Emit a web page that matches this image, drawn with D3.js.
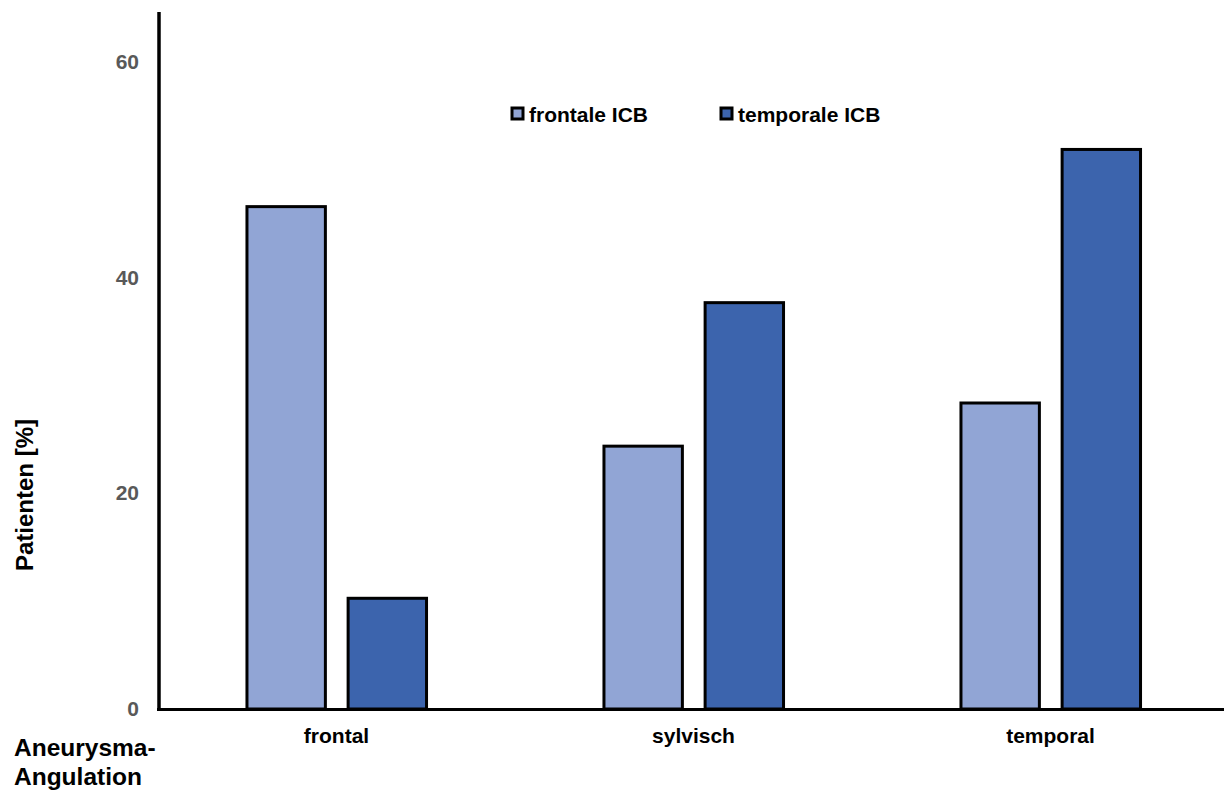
<!DOCTYPE html>
<html>
<head>
<meta charset="utf-8">
<script src="https://cdn.jsdelivr.net/npm/d3@7"></script>
<style>
  html, body { margin: 0; padding: 0; background: #fff; }
  svg { display: block; font-family: "Liberation Sans", Arial, sans-serif; font-weight: bold; }
</style>
</head>
<body>
<svg id="chart" width="1224" height="796"></svg>
<script>
const categories = ["frontal", "sylvisch", "temporal"];
const seriesNames = ["frontale ICB", "temporale ICB"];
const frontaleICB = [46.7, 24.5, 28.5];
const temporaleICB = [10.4, 37.8, 52.0];
const yTicks = [0, 20, 40, 60];
const colors = ["#91A5D5", "#3C64AD"];

const seriesValues = [frontaleICB, temporaleICB];
const svg = d3.select("#chart");

const x0 = d3.scaleBand().domain(categories).range([158, 1229]).paddingInner(0.49).paddingOuter(0.245);
const x1 = d3.scaleBand().domain(seriesNames).range([0, x0.bandwidth()]).paddingInner(0.2).paddingOuter(0);
const y = d3.scaleLinear().domain([0, 64.6]).range([709, 12]);

// bars
const groups = svg.append("g").selectAll("g")
  .data(categories)
  .join("g")
  .attr("transform", d => `translate(${x0(d)},0)`);

groups.selectAll("rect")
  .data((c, i) => seriesNames.map((s, j) => ({ s, v: seriesValues[j][i], j })))
  .join("rect")
  .attr("x", d => x1(d.s) + 1.5)
  .attr("width", x1.bandwidth() - 2.5)
  .attr("y", d => y(d.v) + 1.5)
  .attr("height", d => y(0) - y(d.v) - 1.5)
  .attr("fill", d => colors[d.j])
  .attr("stroke", "#000")
  .attr("stroke-width", 3);

// y axis
const yAxis = d3.axisLeft(y).tickValues(yTicks).tickSize(0).tickPadding(20);
const yg = svg.append("g").attr("transform", "translate(159,0)").call(yAxis);
yg.select(".domain").remove();
yg.selectAll("text")
  .attr("fill", "#595959")
  .attr("font-size", 21)
  .attr("font-weight", "bold")
  .attr("font-family", '"Liberation Sans", Arial, sans-serif');

svg.append("line")
  .attr("x1", 159).attr("x2", 159)
  .attr("y1", y.range()[1]).attr("y2", y(0) + 2)
  .attr("stroke", "#000").attr("stroke-width", 3.5);

// x axis
const xAxis = d3.axisBottom(x0).tickSize(0).tickPadding(19);
const xg = svg.append("g").attr("transform", `translate(0,${y(0)})`).call(xAxis);
xg.select(".domain").remove();
xg.selectAll("text")
  .attr("fill", "#000")
  .attr("font-size", 21)
  .attr("font-weight", "bold")
  .attr("font-family", '"Liberation Sans", Arial, sans-serif');

svg.append("line")
  .attr("x1", 157).attr("x2", 1224)
  .attr("y1", y(0) + 0.5).attr("y2", y(0) + 0.5)
  .attr("stroke", "#000").attr("stroke-width", 3);

// axis titles
svg.append("text")
  .attr("transform", "translate(33,495) rotate(-90)")
  .attr("text-anchor", "middle")
  .attr("font-size", 24)
  .attr("fill", "#000")
  .text("Patienten [%]");

svg.append("text")
  .attr("x", 14).attr("y", 756)
  .attr("font-size", 24.5)
  .attr("fill", "#000")
  .text("Aneurysma-");
svg.append("text")
  .attr("x", 14).attr("y", 785)
  .attr("font-size", 24.5)
  .attr("fill", "#000")
  .text("Angulation");

// legend
const legendX = [512, 721];
const leg = svg.append("g").selectAll("g")
  .data(seriesNames)
  .join("g")
  .attr("transform", (d, i) => `translate(${legendX[i]},108)`);
leg.append("rect")
  .attr("width", 11).attr("height", 11)
  .attr("fill", (d, i) => colors[i])
  .attr("stroke", "#000").attr("stroke-width", 3);
leg.append("text")
  .attr("x", 17).attr("y", 14)
  .attr("font-size", 21)
  .attr("fill", "#000")
  .text(d => d);
</script>
</body>
</html>
